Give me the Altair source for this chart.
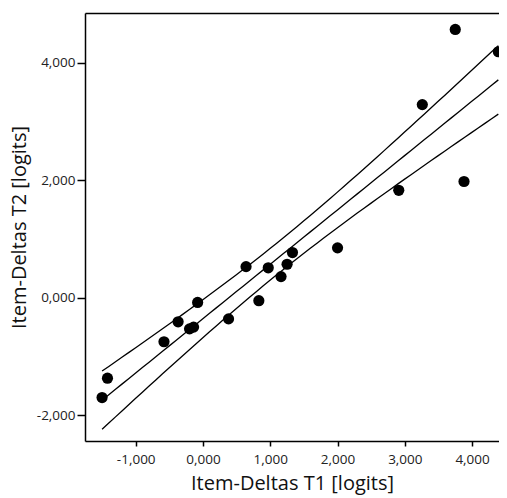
import altair as alt
import numpy as np
import pandas as pd

# Item deltas (logits)
t1 = [-1.50, -1.42, -0.58, -0.37, -0.20, -0.14, -0.08, 0.38, 0.64, 0.83,
      0.97, 1.16, 1.25, 1.33, 2.00, 2.91, 3.26, 3.75, 3.88, 4.39]
t2 = [-1.70, -1.37, -0.75, -0.41, -0.53, -0.50, -0.08, -0.36, 0.53, -0.05,
      0.51, 0.36, 0.57, 0.77, 0.85, 1.83, 3.29, 4.57, 1.98, 4.19]

x_ticks = [-1, 0, 1, 2, 3, 4]
y_ticks = [-2, 0, 2, 4]

pts = pd.DataFrame({"t1": t1, "t2": t2})

# Linear regression with 95% confidence band for the mean
x = np.array(t1)
y = np.array(t2)
n = len(x)
b, a = np.polyfit(x, y, 1)
res = y - (a + b * x)
s = np.sqrt((res ** 2).sum() / (n - 2))
sxx = ((x - x.mean()) ** 2).sum()
tcrit = 2.101
xs = np.linspace(x.min(), x.max(), 60)
fit = a + b * xs
hw = tcrit * s * np.sqrt(1 / n + (xs - x.mean()) ** 2 / sxx)
rows = []
for name, vals in [("fit", fit), ("lower", fit - hw), ("upper", fit + hw)]:
    for xv, yv in zip(xs, vals):
        rows.append({"t1": xv, "t2": yv, "line": name})
lines_df = pd.DataFrame(rows)

label_expr = "(datum.value < 0 ? '-' : '') + replace(format(abs(datum.value), '.3f'), '.', ',')"

xscale = alt.Scale(domain=[-1.754, 4.40], nice=False, zero=False)
yscale = alt.Scale(domain=[-2.44, 4.85], nice=False, zero=False)

points = alt.Chart(pts).mark_circle(size=125, color="black", opacity=1).encode(
    x=alt.X("t1:Q", scale=xscale,
            axis=alt.Axis(values=x_ticks, labelExpr=label_expr, title="Item-Deltas T1 [logits]",
                          tickSize=5, labelPadding=6, titlePadding=8, grid=False)),
    y=alt.Y("t2:Q", scale=yscale,
            axis=alt.Axis(values=y_ticks, labelExpr=label_expr, title="Item-Deltas T2 [logits]",
                          tickSize=8, labelPadding=2, titlePadding=7, grid=False)),
)

lines = alt.Chart(lines_df).mark_line(color="black", strokeWidth=1.3).encode(
    x=alt.X("t1:Q", scale=xscale,
            axis=alt.Axis(orient="top", labels=False, ticks=False, title=None, grid=False)),
    y=alt.Y("t2:Q", scale=yscale),
    detail="line:N",
)

chart = alt.layer(lines, points).resolve_axis(x="independent").properties(
    width=414, height=428,
    autosize=alt.AutoSizeParams(type="none"),
    padding={"left": 77, "top": 5, "right": 0, "bottom": 55},
).configure_view(strokeWidth=0).configure_axis(
    domainColor="black", domainWidth=1.5, tickColor="black", tickWidth=1.5,
    labelFont="Open Sans", labelFontSize=13.5, labelColor="#222",
    titleFont="Open Sans", titleFontSize=20, titleFontWeight="normal", titleColor="#111",
)

chart.save("out.html", embed_options={"renderer": "svg", "actions": False})
